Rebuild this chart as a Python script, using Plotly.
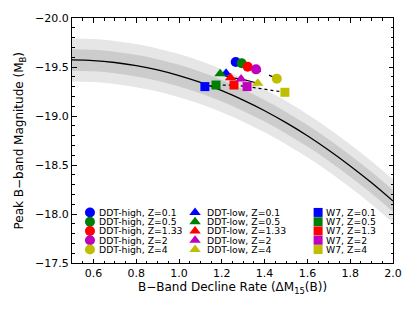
import plotly.graph_objects as go

# ---- data ----
curve_x = [0.5, 0.6, 0.7, 0.8, 0.9, 1.0, 1.1, 1.2, 1.3, 1.4, 1.5, 1.6, 1.7, 1.8, 1.9, 2.0]
curve_y = [-19.572, -19.566, -19.546, -19.514, -19.470, -19.412, -19.342, -19.258,
           -19.162, -19.054, -18.932, -18.798, -18.650, -18.490, -18.318, -18.132]
band_inner = 0.11
band_outer = 0.22

colors = ["#0000ff", "#008000", "#ff0000", "#bf00bf", "#bfbf00"]

ddt_high_x = [1.265, 1.293, 1.321, 1.360, 1.457]
ddt_high_y = [-19.551, -19.538, -19.503, -19.476, -19.381]
ddt_high_z = ["0.1", "0.5", "1.33", "2", "4"]

ddt_low_x = [1.220, 1.192, 1.241, 1.290, 1.368]
ddt_low_y = [-19.436, -19.430, -19.390, -19.378, -19.334]
ddt_low_z = ["0.1", "0.5", "1.33", "2", "4"]

w7_x = [1.121, 1.173, 1.257, 1.318, 1.495]
w7_y = [-19.300, -19.316, -19.316, -19.300, -19.242]
w7_z = ["0.1", "0.5", "1.3", "2", "4"]

x_ticks = [0.6, 0.8, 1.0, 1.2, 1.4, 1.6, 1.8, 2.0]
y_ticks = [-20.0, -19.5, -19.0, -18.5, -18.0, -17.5]

FONT = "DejaVu Sans"

fig = go.Figure()

# bands
fig.add_trace(go.Scatter(x=curve_x, y=[v - band_outer for v in curve_y], mode="lines",
                         line=dict(width=0, shape="spline"), showlegend=False, hoverinfo="skip"))
fig.add_trace(go.Scatter(x=curve_x, y=[v + band_outer for v in curve_y], mode="lines",
                         line=dict(width=0, shape="spline"), fill="tonexty",
                         fillcolor="#e6e6e6", showlegend=False, hoverinfo="skip"))
fig.add_trace(go.Scatter(x=curve_x, y=[v - band_inner for v in curve_y], mode="lines",
                         line=dict(width=0, shape="spline"), showlegend=False, hoverinfo="skip"))
fig.add_trace(go.Scatter(x=curve_x, y=[v + band_inner for v in curve_y], mode="lines",
                         line=dict(width=0, shape="spline"), fill="tonexty",
                         fillcolor="#cccccc", showlegend=False, hoverinfo="skip"))
fig.add_trace(go.Scatter(x=curve_x, y=curve_y, mode="lines",
                         line=dict(color="black", width=1.3, shape="spline"), showlegend=False))

# model series
fig.add_trace(go.Scatter(x=w7_x, y=w7_y, mode="lines+markers",
                         line=dict(color="black", width=1.2, dash="dot"),
                         marker=dict(symbol="square", size=9, color=colors), showlegend=False))
fig.add_trace(go.Scatter(x=ddt_low_x, y=ddt_low_y, mode="lines+markers",
                         line=dict(color="black", width=1.2),
                         marker=dict(symbol="triangle-up", size=10, color=colors), showlegend=False))
fig.add_trace(go.Scatter(x=ddt_high_x, y=ddt_high_y, mode="lines+markers",
                         line=dict(color="black", width=1.2, dash="dash"),
                         marker=dict(symbol="circle", size=10, color=colors), showlegend=False))

# manual legend (positions in data coords of the main axes)
leg_marker_x = [0.584, 1.075, 1.650]
leg_text_x = [0.622, 1.125, 1.680]
leg_row_y = [-18.016, -17.921, -17.827, -17.732, -17.637]
groups = [("DDT-high", ddt_high_z, "circle", 10),
          ("DDT-low", ddt_low_z, "triangle-up", 10),
          ("W7", w7_z, "square", 9)]
annotations = []
for ci, (name, zs, sym, sz) in enumerate(groups):
    fig.add_trace(go.Scatter(x=[leg_marker_x[ci]] * len(zs), y=leg_row_y, mode="markers",
                             marker=dict(symbol=sym, size=sz, color=colors),
                             showlegend=False, hoverinfo="skip"))
    for ri, z in enumerate(zs):
        annotations.append(dict(x=leg_text_x[ci], y=leg_row_y[ri], xref="x", yref="y",
                                text=f"{name}, Z={z}", showarrow=False, xanchor="left",
                                yanchor="middle", borderpad=0,
                                font=dict(family=FONT, size=9.3, color="black")))

# axis titles as annotations
annotations.append(dict(x=0.5, y=-0.102, xref="paper", yref="paper", showarrow=False,
                        xanchor="center", yanchor="middle",
                        text="B\u2212Band Decline Rate (\u0394M<sub>15</sub>(B))",
                        font=dict(family=FONT, size=12, color="black")))
annotations.append(dict(x=-0.162, y=0.5, xref="paper", yref="paper", showarrow=False,
                        xanchor="center", yanchor="middle", textangle=-90,
                        text="Peak B\u2212band Magnitude (M<sub>B</sub>)",
                        font=dict(family=FONT, size=12, color="black")))

axis_common = dict(showline=True, linecolor="black", linewidth=1, mirror="allticks",
                   ticks="inside", ticklen=4.5, tickwidth=1, tickcolor="black",
                   showgrid=False, zeroline=False, automargin=False,
                   tickfont=dict(family=FONT, size=11, color="black"))

# the page body has an 8px default margin, so the figure is offset by 8px
fig.update_layout(
    width=407, height=304,
    margin=dict(l=64, r=22, t=10, b=49),
    plot_bgcolor="white", paper_bgcolor="white",
    annotations=annotations,
    xaxis=dict(range=[0.5, 2.0], tickvals=x_ticks, ticktext=[f"{v:.1f}" for v in x_ticks],
               minor=dict(ticks="inside", dtick=0.05, tick0=0.5, ticklen=2.5, tickcolor="black"),
               **axis_common),
    yaxis=dict(range=[-17.5, -20.0], tickvals=y_ticks,
               ticktext=[f"\u2212{abs(v):.1f}" for v in y_ticks],
               minor=dict(ticks="inside", dtick=0.1, tick0=-20.0, ticklen=2.5, tickcolor="black"),
               **axis_common),
)

fig.write_html("out.html")
